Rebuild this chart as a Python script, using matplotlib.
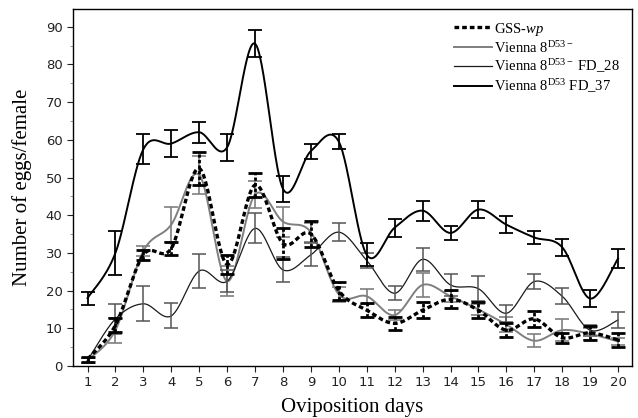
import numpy as np
import matplotlib
matplotlib.use("Agg")
import matplotlib.pyplot as plt
from matplotlib.lines import Line2D
from matplotlib.ticker import MultipleLocator

plt.rcParams['mathtext.fontset'] = 'custom'
plt.rcParams['mathtext.rm'] = 'Liberation Serif'
plt.rcParams['mathtext.it'] = 'Liberation Serif:italic'

days = list(range(1, 21))

gss_wp = [1.8, 10.8, 29.5, 31.2, 52.4, 27.0, 48.0, 32.5, 35.0, 20.0,
          14.8, 11.3, 14.8, 17.7, 14.8, 9.5, 12.5, 7.5, 8.8, 6.9]
gss_wp_err = [0.7, 1.8, 1.3, 1.8, 4.4, 2.5, 3.3, 4.0, 3.5, 2.4,
              1.8, 1.8, 2.2, 2.4, 2.2, 1.8, 2.2, 1.3, 1.8, 1.8]

vienna = [1.5, 9.5, 30.5, 37.5, 50.7, 22.5, 45.5, 38.3, 35.5, 19.0,
          18.5, 13.5, 21.5, 18.5, 15.0, 11.0, 6.7, 9.5, 8.5, 6.5]
vienna_err = [0.7, 3.3, 1.3, 4.7, 5.0, 4.0, 3.6, 4.0, 2.5, 2.0,
              2.0, 1.4, 3.1, 1.5, 1.5, 2.0, 1.7, 3.0, 1.5, 1.0]

fd28 = [1.5, 12.5, 16.5, 13.3, 25.2, 22.5, 36.5, 25.5, 29.5, 35.5,
        28.0, 19.3, 28.3, 21.5, 20.5, 14.0, 22.4, 18.5, 9.5, 12.2]
fd28_err = [0.7, 4.0, 4.6, 3.3, 4.4, 3.0, 4.0, 3.3, 3.0, 2.3,
            2.0, 1.8, 3.1, 3.0, 3.3, 2.2, 2.0, 2.1, 1.5, 2.2]

fd37 = [18.0, 30.0, 57.5, 59.0, 62.0, 58.0, 85.5, 47.0, 57.0, 59.5,
        29.5, 36.7, 41.2, 35.3, 41.5, 37.5, 34.1, 31.5, 17.9, 28.5]
fd37_err = [1.7, 5.9, 4.0, 3.5, 2.8, 3.5, 3.5, 3.5, 2.0, 2.0,
            3.0, 2.4, 2.7, 1.8, 2.3, 2.3, 1.8, 2.3, 2.3, 2.6]

labels = ['GSS-$\\mathit{wp}$',
          'Vienna 8$^{\\mathrm{D53-}}$',
          'Vienna 8$^{\\mathrm{D53-}}$ FD_28',
          'Vienna 8$^{\\mathrm{D53}}$ FD_37']


def smooth(x, y, n=30):
    x = np.asarray(x, float)
    y = np.asarray(y, float)
    xs, ys = [], []
    for i in range(len(x) - 1):
        x0, x1 = x[i], x[i + 1]
        y0, y1 = y[i], y[i + 1]
        xm = x[i - 1] if i > 0 else x0
        ym = y[i - 1] if i > 0 else y0
        xp = x[i + 2] if i + 2 < len(x) else x1
        yp = y[i + 2] if i + 2 < len(y) else y1
        c1x, c1y = x0 + (x1 - xm) / 6, y0 + (y1 - ym) / 6
        c2x, c2y = x1 - (xp - x0) / 6, y1 - (yp - y0) / 6
        t = np.linspace(0, 1, n, endpoint=False)
        bx = (1 - t) ** 3 * x0 + 3 * (1 - t) ** 2 * t * c1x + 3 * (1 - t) * t ** 2 * c2x + t ** 3 * x1
        by = (1 - t) ** 3 * y0 + 3 * (1 - t) ** 2 * t * c1y + 3 * (1 - t) * t ** 2 * c2y + t ** 3 * y1
        xs.append(bx)
        ys.append(by)
    xs.append([x[-1]])
    ys.append([y[-1]])
    return np.concatenate(xs), np.concatenate(ys)


fig = plt.figure(figsize=(6.38, 4.18), dpi=100)
ax = fig.add_axes([0.1144, 0.1244, 0.8762, 0.8541])

series = [
    (vienna, vienna_err, dict(color='#7f7f7f', lw=1.4, ls='-'), dict(color='#7f7f7f', lw=1.2, ls='-')),
    (fd28, fd28_err, dict(color='#1a1a1a', lw=0.9, ls='-'), dict(color='#555555', lw=1.1, ls='-')),
    (fd37, fd37_err, dict(color='black', lw=1.4, ls='-'), dict(color='black', lw=1.3, ls='-')),
    (gss_wp, gss_wp_err, dict(color='black', lw=2.4, ls=(0, (1.4, 0.9))), dict(color='black', lw=2.0, ls=(0, (1.2, 0.8)))),
]

for vals, errs, lstyle, estyle in series:
    sx, sy = smooth(days, vals)
    ax.plot(sx, sy, **lstyle)
    eb = ax.errorbar(days, vals, yerr=errs, fmt='none', ecolor=estyle['color'],
                     elinewidth=estyle['lw'], capsize=5, capthick=estyle['lw'])
    for lc in eb[2]:
        lc.set_linestyle(estyle['ls'])

leg_handles = [
    Line2D([], [], color='black', lw=2.4, ls=(0, (1.4, 0.9))),
    Line2D([], [], color='#7f7f7f', lw=1.4),
    Line2D([], [], color='#1a1a1a', lw=0.9),
    Line2D([], [], color='black', lw=1.4),
]
leg = ax.legend(leg_handles, labels, loc='upper right', bbox_to_anchor=(0.993, 0.99),
                prop={'family': 'Liberation Serif', 'size': 10.5},
                frameon=False,
                handlelength=2.6, handletextpad=0.15, labelspacing=0.14, borderpad=0.55,
                borderaxespad=0.0)

ax.set_xlim(0.48, 20.5)
ax.set_ylim(0, 94.7)
ax.set_xticks(days)
ax.set_yticks(range(0, 100, 10))
ax.yaxis.set_minor_locator(MultipleLocator(5))
ax.tick_params(axis='both', which='major', direction='out', length=4, width=0.8,
               labelsize=9.5, colors='#222222')
ax.tick_params(axis='y', which='minor', direction='out', length=2.5, width=0.6, color='#888888')
for lab in ax.get_xticklabels() + ax.get_yticklabels():
    lab.set_fontfamily('DejaVu Sans')
for sp in ax.spines.values():
    sp.set_linewidth(1.0)

ax.set_xlabel('Oviposition days', fontfamily='Liberation Serif', fontsize=15, labelpad=6)
ax.set_ylabel('Number of eggs/female', fontfamily='Liberation Serif', fontsize=15, labelpad=10)

fig.savefig('out.png', dpi=100)
